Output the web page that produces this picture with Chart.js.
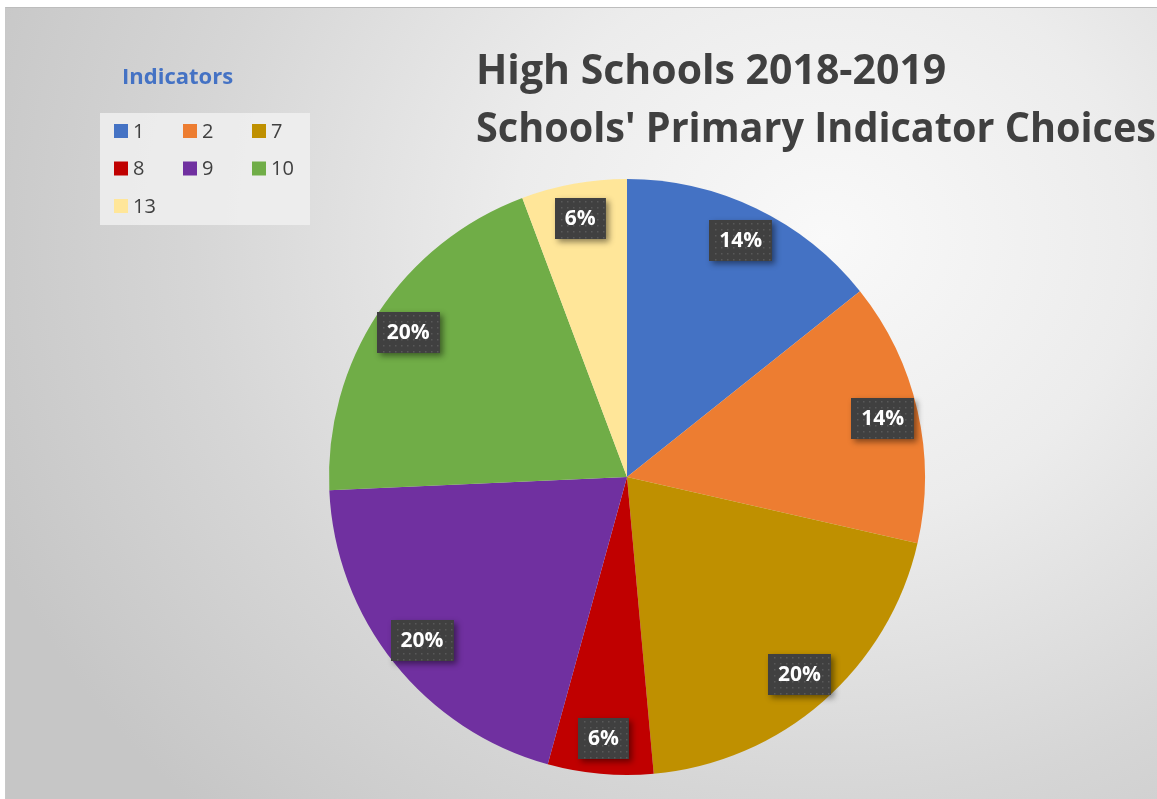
<!DOCTYPE html>
<html><head><meta charset="utf-8">
<script src="https://cdn.jsdelivr.net/npm/chart.js@4/dist/chart.umd.min.js"></script>
<style>
html,body{margin:0;padding:0;background:#fff;}
#wrap{position:absolute;left:0;top:0;width:1157px;height:799px;overflow:hidden;}
#bg{position:absolute;left:5px;top:7px;width:1152px;height:792px;border-top:1px solid #bdbdbd;border-left:1px solid #c8c8c8;box-sizing:border-box;
background:radial-gradient(ellipse 900px 800px at 820px 230px,#f9f9f9 0%,#ececec 35%,#d6d6d6 70%,#c6c6c6 100%);}
canvas{position:absolute;left:0;top:0;}
</style></head>
<body><div id="wrap"><div id="bg"></div><canvas id="c" width="1157" height="799"></canvas></div>
<script>
const categories = ['1','2','7','8','9','10','13'];
const counts = [5,5,7,2,7,7,2];
const colors = ['#4472C4','#ED7D31','#BF9000','#C00000','#7030A0','#70AD47','#FFE699'];
const titleLines = ['High Schools 2018-2019',"Schools' Primary Indicator Choices"];
const legendTitle = 'Indicators';

const FONT = "'Open Sans','Noto Sans',sans-serif";

const overlay = {
  id:'overlay',
  afterDatasetsDraw(chart){
    const ctx = chart.ctx;
    const meta = chart.getDatasetMeta(0);
    const total = counts.reduce((a,b)=>a+b,0);
    ctx.save();
    meta.data.forEach((arc,i)=>{
      const p = arc.getProps(['x','y','startAngle','endAngle','outerRadius'],true);
      const mid = (p.startAngle+p.endAngle)/2;
      const r = p.outerRadius*0.88;
      const cx = p.x + Math.cos(mid)*r, cy = p.y + Math.sin(mid)*r;
      const txt = Math.round(counts[i]/total*100)+'%';
      ctx.font = "bold 21px "+FONT;
      const w = ctx.measureText(txt).width + 20, h = 41;
      const x0 = Math.round(cx - w/2), y0 = Math.round(cy - h/2);
      ctx.save();
      ctx.shadowColor='rgba(0,0,0,0.45)'; ctx.shadowBlur=6; ctx.shadowOffsetX=3; ctx.shadowOffsetY=3;
      ctx.fillStyle='#404040'; ctx.fillRect(x0,y0,w,h);
      ctx.restore();
      ctx.fillStyle='rgba(110,110,110,0.55)';
      for(let yy=y0+3; yy<y0+h; yy+=6) for(let xx=x0+3+((yy-y0)%12?3:0); xx<x0+w; xx+=6) ctx.fillRect(xx,yy,1.5,1.5);
      ctx.fillStyle='#ffffff'; ctx.textAlign='center'; ctx.textBaseline='middle';
      ctx.fillText(txt, cx, y0+h/2+1);
    });
    // title
    ctx.fillStyle='#404040'; ctx.textAlign='left'; ctx.textBaseline='middle';
    ctx.font = "bold 41px "+FONT;
    ctx.fillText(titleLines[0], 476, 72);
    ctx.fillText(titleLines[1], 476, 130, 680);
    // legend
    ctx.fillStyle='#4472C4'; ctx.font="bold 22px "+FONT;
    ctx.fillText(legendTitle, 122, 78);
    ctx.fillStyle='rgba(240,240,240,0.85)';
    ctx.fillRect(100,113,210,112);
    ctx.font = "20px "+FONT;
    categories.forEach((c,i)=>{
      const col=i%3, row=Math.floor(i/3);
      const x=114+col*69, y=131+row*37.5;
      ctx.fillStyle=colors[i]; ctx.fillRect(x,y-7,14,14);
      ctx.fillStyle='#404040'; ctx.fillText(c,x+19,y+1);
    });
    ctx.restore();
  }
};

new Chart(document.getElementById('c'),{
  type:'pie',
  data:{labels:categories,datasets:[{data:counts,backgroundColor:colors,borderWidth:0}]},
  options:{
    responsive:false, animation:false,
    layout:{padding:{left:329,right:232,top:179,bottom:24}},
    plugins:{legend:{display:false},tooltip:{enabled:false},title:{display:false}}
  },
  plugins:[overlay]
});
</script></body></html>
